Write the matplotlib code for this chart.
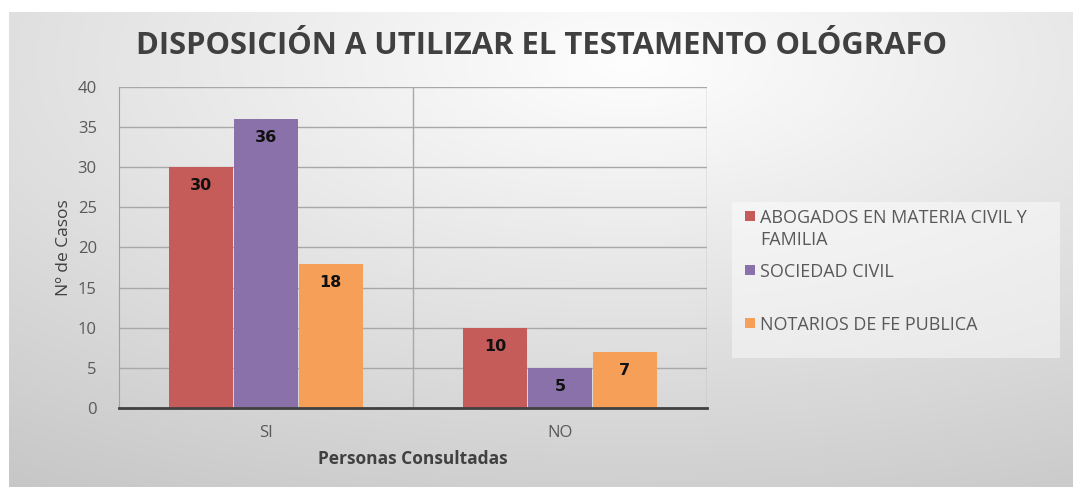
import numpy as np
import matplotlib
matplotlib.use("Agg")
import matplotlib.pyplot as plt
from matplotlib.patches import Rectangle

categories = ["SI", "NO"]
series_names = ["ABOGADOS EN MATERIA CIVIL Y\nFAMILIA", "SOCIEDAD CIVIL", "NOTARIOS DE FE PUBLICA"]
abogados = [30, 10]
sociedad = [36, 5]
notarios = [18, 7]
yticks = [0, 5, 10, 15, 20, 25, 30, 35, 40]
colors = ["#C65C59", "#8B71AA", "#F59F59"]

W, H = 1073, 487
fig = plt.figure(figsize=(W / 100, H / 100), dpi=100)
fig.patch.set_facecolor("white")

# gradient background frame
bg = fig.add_axes([9 / W, 0, 1 - 9 / W, 1 - 12 / H])
bg.set_axis_off()
yy, xx = np.mgrid[0:475, 0:1064]
cx, cy = 620, 50
d = np.sqrt(((xx - cx) / 1064) ** 2 + ((yy - cy) / 475) ** 2)
val = np.clip(254 - 52 * d, 0, 255) / 255.0
img = np.dstack([val, val, val])
bg.imshow(img, aspect="auto", extent=[0, 1, 0, 1], origin="upper")
bg.set_xlim(0, 1)
bg.set_ylim(0, 1)

ax = fig.add_axes([119 / W, 1 - 408 / H, (707 - 119) / W, (408 - 87) / H])
ax.patch.set_alpha(0)
x = np.arange(len(categories))
bw = 0.22
series = [abogados, sociedad, notarios]
bars = []
for i, (vals, c, name) in enumerate(zip(series, colors, series_names)):
    b = ax.bar(x + (i - 1) * bw, vals, width=bw * 0.99, color=c, label=name, zorder=3)
    bars.append(b)
    for xi, v in zip(x + (i - 1) * bw, vals):
        ax.text(xi, v - 2.3, str(v), ha="center", va="center", fontsize=11.5,
                fontweight="bold", color="#111111", family="DejaVu Sans", zorder=4)

ax.set_xlim(-0.5, 1.5)
ax.set_ylim(0, 40)
ax.set_yticks(yticks)
ax.set_xticks(x)
ax.set_xticklabels(categories)
for lab in ax.get_yticklabels() + ax.get_xticklabels():
    lab.set_family("Open Sans")
    lab.set_fontsize(12)
    lab.set_color("#595959")
ax.tick_params(axis="both", length=0)
ax.tick_params(axis="y", pad=16)
ax.tick_params(axis="x", pad=12)
ax.yaxis.grid(True, color="#a8a8a8", linewidth=1, zorder=1)
for xv in [0.5, 1.5]:
    ax.axvline(xv, color="#a8a8a8", linewidth=1, zorder=1)
for s in ["top", "right"]:
    ax.spines[s].set_visible(False)
ax.spines["left"].set_color("#a0a0a0")
ax.spines["bottom"].set_color("#404040")
ax.spines["bottom"].set_linewidth(2)
ax.spines["bottom"].set_zorder(5)

ax.set_ylabel("Nº de Casos", fontsize=12.5, color="#404040",
              family="Open Sans", labelpad=4)
ax.set_xlabel("Personas Consultadas", fontsize=12.5, fontweight="bold", color="#404040",
              family="Open Sans", labelpad=7)

fig.text(541 / W, 1 - 46 / H, "DISPOSICIÓN A UTILIZAR EL TESTAMENTO OLÓGRAFO",
         ha="center", va="center", fontsize=22.3, fontweight="bold", color="#404040",
         family="Open Sans")

# legend (manual, Excel-like spacing)
fig.patches.append(Rectangle((732 / W, 1 - 358 / H), (1060 - 732) / W, (358 - 202) / H,
                             transform=fig.transFigure, facecolor="white", alpha=0.45,
                             edgecolor="none", zorder=1))
leg_y = [216, 270, 323]
for name, c, ly in zip(series_names, colors, leg_y):
    fig.patches.append(Rectangle((745 / W, 1 - (ly + 5) / H), 10 / W, 10 / H,
                                 transform=fig.transFigure, facecolor=c,
                                 edgecolor="none", zorder=2))
    fig.text(760 / W, 1 - (ly - 7) / H, name, ha="left", va="top",
             fontsize=13, color="#595959", family="Open Sans",
             linespacing=1.3)

fig.savefig("out.png", dpi=100, facecolor="white")
